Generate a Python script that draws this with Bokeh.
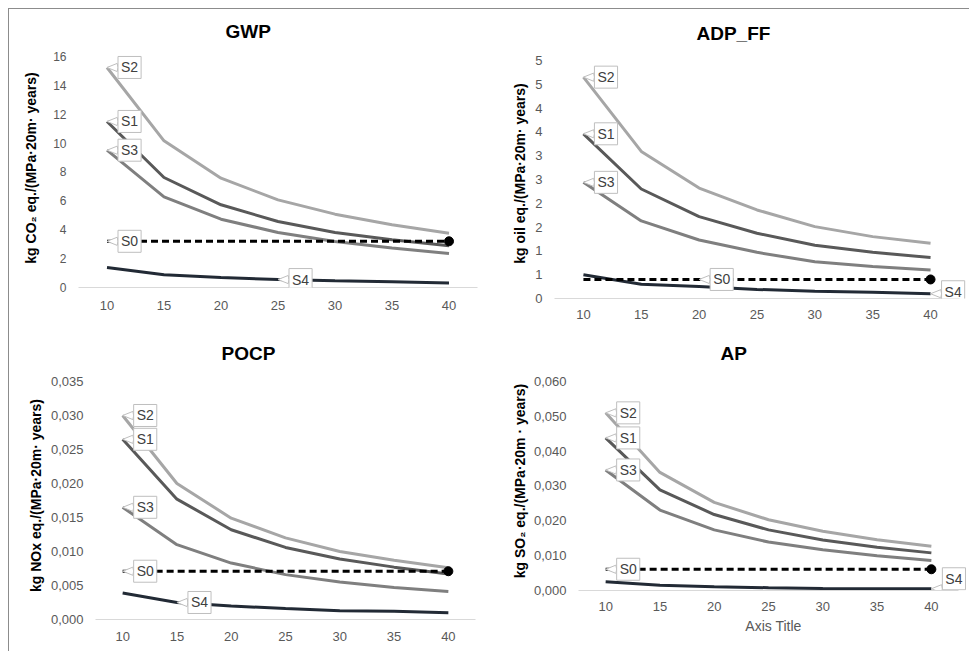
from bokeh.plotting import figure
from bokeh.layouts import column, row
from bokeh.models import ColumnDataSource, FixedTicker, Range1d, Label
from bokeh.embed import file_html
from bokeh.resources import INLINE

# ---------------- data ----------------
x = [10, 15, 20, 25, 30, 35, 40]
series = ["S0", "S1", "S2", "S3", "S4"]

gwp_s0 = [3.2, 3.2, 3.2, 3.2, 3.2, 3.2, 3.2]
gwp_s1 = [11.5, 7.62, 5.73, 4.57, 3.81, 3.30, 2.89]
gwp_s2 = [15.24, 10.16, 7.57, 6.07, 5.08, 4.34, 3.76]
gwp_s3 = [9.51, 6.28, 4.73, 3.81, 3.19, 2.73, 2.36]
gwp_s4 = [1.39, 0.88, 0.69, 0.55, 0.46, 0.39, 0.32]

adp_s0 = [0.40, 0.40, 0.40, 0.40, 0.40, 0.40, 0.40]
adp_s1 = [3.46, 2.30, 1.72, 1.37, 1.12, 0.97, 0.86]
adp_s2 = [4.65, 3.09, 2.32, 1.86, 1.51, 1.30, 1.16]
adp_s3 = [2.44, 1.63, 1.23, 0.97, 0.77, 0.67, 0.60]
adp_s4 = [0.50, 0.30, 0.25, 0.19, 0.15, 0.13, 0.10]

pocp_s0 = [0.0071, 0.0071, 0.0071, 0.0071, 0.0071, 0.0071, 0.0071]
pocp_s1 = [0.0265, 0.0177, 0.0132, 0.0106, 0.0089, 0.0077, 0.0067]
pocp_s2 = [0.0300, 0.0200, 0.0149, 0.0120, 0.0100, 0.0087, 0.0076]
pocp_s3 = [0.0165, 0.0110, 0.0083, 0.0066, 0.0055, 0.0047, 0.0041]
pocp_s4 = [0.0039, 0.0025, 0.0020, 0.0016, 0.0013, 0.0012, 0.0010]

ap_s0 = [0.0061, 0.0061, 0.0061, 0.0061, 0.0061, 0.0061, 0.0061]
ap_s1 = [0.0438, 0.0289, 0.0218, 0.0174, 0.0145, 0.0124, 0.0108]
ap_s2 = [0.0510, 0.0339, 0.0253, 0.0203, 0.0170, 0.0146, 0.0127]
ap_s3 = [0.0346, 0.0231, 0.0174, 0.0139, 0.0117, 0.0100, 0.0086]
ap_s4 = [0.0025, 0.0015, 0.0011, 0.0008, 0.0006, 0.0005, 0.0005]

gwp_yticks = [0, 2, 4, 6, 8, 10, 12, 14, 16]
gwp_ylabels = ["0", "2", "4", "6", "8", "10", "12", "14", "16"]
adp_yticks = [0, 0.5, 1.0, 1.5, 2.0, 2.5, 3.0, 3.5, 4.0, 4.5, 5.0]
adp_ylabels = ["0", "1", "1", "2", "2", "3", "3", "4", "4", "5", "5"]
pocp_yticks = [0, 0.005, 0.010, 0.015, 0.020, 0.025, 0.030, 0.035]
pocp_ylabels = ["0,000", "0,005", "0,010", "0,015", "0,020", "0,025", "0,030", "0,035"]
ap_yticks = [0, 0.010, 0.020, 0.030, 0.040, 0.050, 0.060]
ap_ylabels = ["0,000", "0,010", "0,020", "0,030", "0,040", "0,050", "0,060"]
xtick_labels = ["10", "15", "20", "25", "30", "35", "40"]

# x-position (index into x) where each series' callout sits
gwp_callout = {"S0": 0, "S1": 0, "S2": 0, "S3": 0, "S4": 3}
adp_callout = {"S0": 2, "S1": 0, "S2": 0, "S3": 0, "S4": 6}
pocp_callout = {"S0": 0, "S1": 0, "S2": 0, "S3": 0, "S4": 1}
ap_callout = {"S0": 0, "S1": 0, "S2": 0, "S3": 0, "S4": 6}

# ---------------- styling ----------------
FONT = "Liberation Sans"
colors = {"S0": "#000000", "S1": "#595959", "S2": "#a6a6a6", "S3": "#7f7f7f", "S4": "#222a35"}
draw_order = ["S2", "S1", "S3", "S4", "S0"]


def panel(title, ylabel, data, yticks, ylabels, callouts, y_end, x_end,
          frame_w, frame_h, left, right, top, bottom,
          title_offset, title_standoff, xl_standoff, yl_standoff,
          xlabel=None, ytick_size="13px", label_dy=None):
    label_dy = label_dy or {}
    p = figure(frame_width=frame_w, frame_height=frame_h,
               min_border_left=left, min_border_right=right,
               min_border_top=top, min_border_bottom=bottom,
               x_range=Range1d(7.5, x_end), y_range=Range1d(0, y_end),
               output_backend="svg", toolbar_location=None)
    p.outline_line_color = None
    p.xgrid.visible = False
    p.ygrid.visible = False
    p.background_fill_color = "white"
    p.border_fill_color = "white"

    p.title.text = title
    p.title.align = "left"
    p.title.offset = title_offset
    p.title.standoff = title_standoff
    p.title.text_font = FONT
    p.title.text_font_size = "19px"
    p.title.text_font_style = "bold"
    p.title.text_color = "#000000"

    xa = p.xaxis[0]
    xa.ticker = FixedTicker(ticks=x)
    xa.bounds = (7.5, 42.5)
    xa.major_label_overrides = {xv: lab for xv, lab in zip(x, xtick_labels)}
    xa.axis_line_color = "#d9d9d9"
    xa.axis_line_width = 1
    xa.major_tick_line_color = None
    xa.minor_tick_line_color = None
    xa.major_label_text_font = FONT
    xa.major_label_text_font_size = "13px"
    xa.major_label_text_color = "#595959"
    xa.major_label_standoff = xl_standoff
    if xlabel:
        xa.axis_label = xlabel
        xa.axis_label_text_font = FONT
        xa.axis_label_text_font_size = "14px"
        xa.axis_label_text_font_style = "normal"
        xa.axis_label_text_color = "#595959"
        xa.axis_label_standoff = 4

    ya = p.yaxis[0]
    ya.ticker = FixedTicker(ticks=yticks)
    ya.major_label_overrides = {tv: lab for tv, lab in zip(yticks, ylabels)}
    ya.axis_line_color = None
    ya.major_tick_line_color = None
    ya.minor_tick_line_color = None
    ya.major_label_text_font = FONT
    ya.major_label_text_font_size = ytick_size
    ya.major_label_text_color = "#595959"
    ya.major_label_standoff = 6
    ya.axis_label = ylabel
    ya.axis_label_text_font = FONT
    ya.axis_label_text_font_size = "14px"
    ya.axis_label_text_font_style = "bold"
    ya.axis_label_text_color = "#000000"
    ya.axis_label_standoff = yl_standoff

    for s in draw_order:
        if s == "S0":
            p.line(x, data[s], line_color=colors[s], line_width=3, line_dash="7 4")
            p.scatter([x[-1]], [data[s][-1]], size=9, marker="circle",
                      fill_color="#000000", line_color="#000000")
        else:
            p.line(x, data[s], line_color=colors[s], line_width=3)

    cx, cy, ct = [], [], []
    for s in ["S2", "S1", "S3", "S0", "S4"]:
        i = callouts[s]
        cx.append(x[i])
        cy.append(data[s][i])
        ct.append(s)
    src = ColumnDataSource(dict(x=cx, y=cy, t=ct))
    p.wedge(x="x", y="y", radius=11, radius_units="screen",
            start_angle=-0.38, end_angle=0.38, source=src,
            fill_color="white", line_color="#bfbfbf", line_width=1)
    for xx, yy, tt in zip(cx, cy, ct):
        p.add_layout(Label(x=xx, y=yy, x_offset=11, y_offset=label_dy.get(tt, 0),
                           text=tt, text_align="left", text_baseline="middle",
                           text_font=FONT, text_font_size="14px",
                           text_color="#404040",
                           background_fill_color="white",
                           border_line_color="#bfbfbf", border_line_width=1,
                           padding=3))
    return p


p1 = panel("GWP", "kg CO\u2082 eq./(MPa\u00b720m\u00b7 years)",
           {"S0": gwp_s0, "S1": gwp_s1, "S2": gwp_s2, "S3": gwp_s3, "S4": gwp_s4},
           gwp_yticks, gwp_ylabels, gwp_callout, 16.554, 42.5,
           399, 239, 69, 11, 39, 43,
           147, 14, 7, 11, ytick_size="12px")
p2 = panel("ADP_FF", "kg oil eq./(MPa\u00b720m\u00b7 years)",
           {"S0": adp_s0, "S1": adp_s1, "S2": adp_s2, "S3": adp_s3, "S4": adp_s4},
           adp_yticks, adp_ylabels, adp_callout, 5.252, 43.28,
           414, 250, 66, 1, 39, 32,
           142, 10, 5, 4, label_dy={"S4": 2})
p3 = panel("POCP", "kg NOx eq./(MPa\u00b720m\u00b7 years)",
           {"S0": pocp_s0, "S1": pocp_s1, "S2": pocp_s2, "S3": pocp_s3, "S4": pocp_s4},
           pocp_yticks, pocp_ylabels, pocp_callout, 0.03647, 42.5,
           380, 248, 86, 13, 41, 32,
           126, 16, 6, 4)
p4 = panel("AP", "kg SO\u2082 eq./(MPa\u00b720m \u00b7 years)",
           {"S0": ap_s0, "S1": ap_s1, "S2": ap_s2, "S3": ap_s3, "S4": ap_s4},
           ap_yticks, ap_ylabels, ap_callout, 0.06287, 43.42,
           390, 219, 90, 1, 41, 61,
           142, 16, 5, 3, xlabel="Axis Title", label_dy={"S4": 10})

layout = column(row(p1, p2), row(p3, p4),
                styles={"margin-top": "8px", "margin-left": "8px",
                        "border-top": "1px solid #8c8c8c",
                        "border-left": "1px solid #8c8c8c"})

open("out.html", "w").write(file_html(layout, INLINE))
